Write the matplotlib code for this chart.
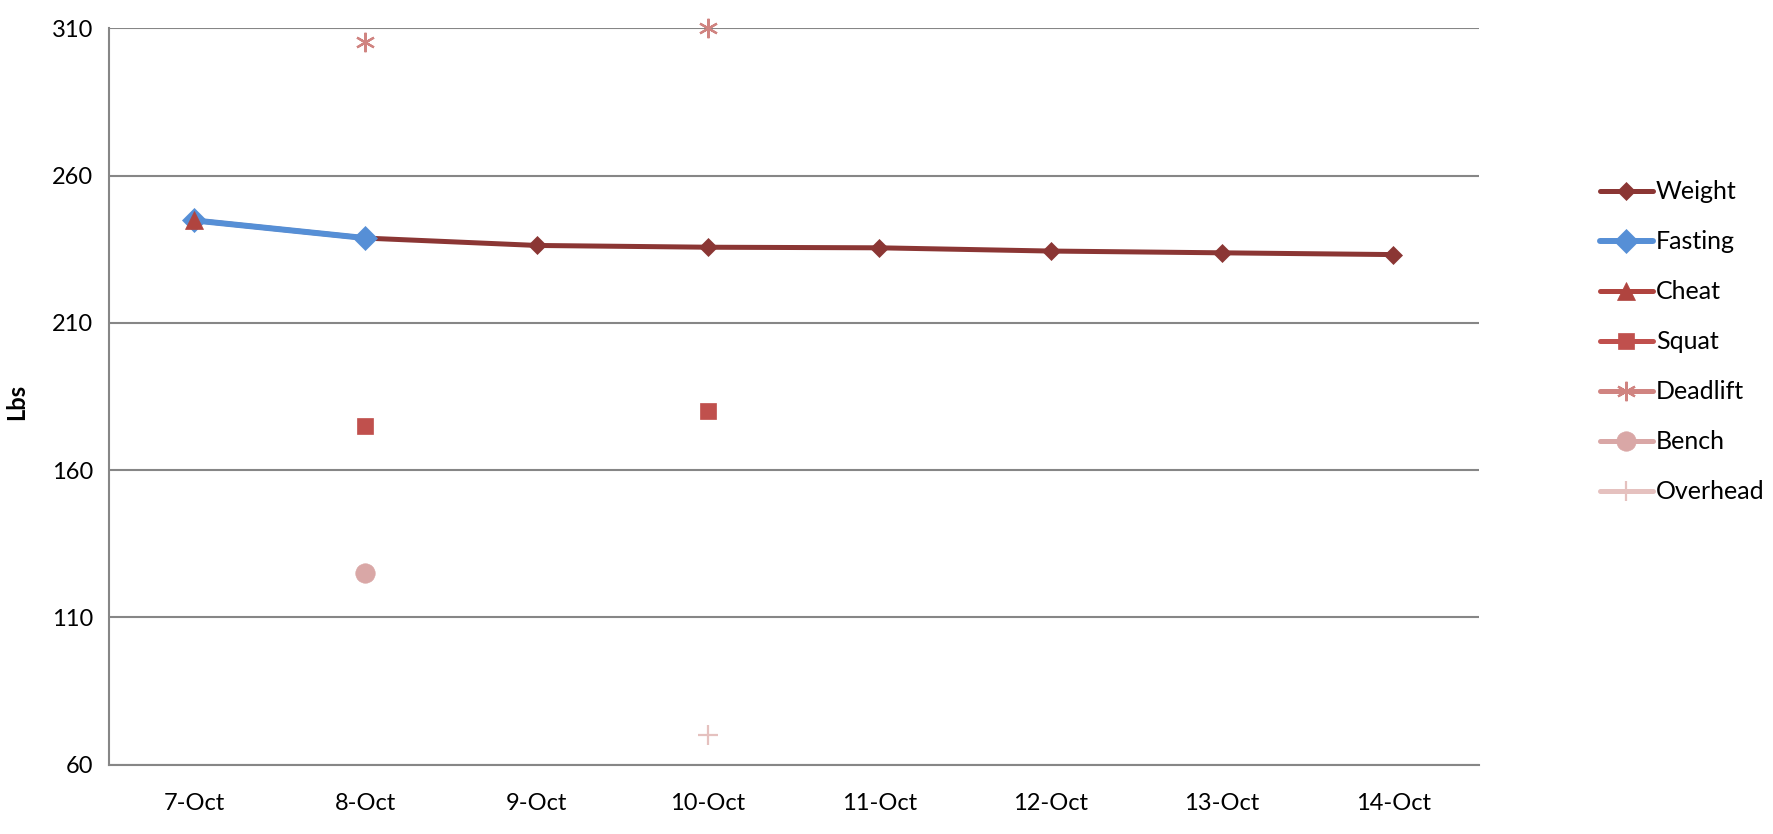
import numpy as np
import matplotlib
matplotlib.use("Agg")
import matplotlib.pyplot as plt

plt.rcParams["font.family"] = ["Lato", "DejaVu Sans"]

nan = np.nan
dates = ["7-Oct", "8-Oct", "9-Oct", "10-Oct", "11-Oct", "12-Oct", "13-Oct", "14-Oct"]
weight = [244.8, 238.8, 236.3, 235.7, 235.5, 234.4, 233.8, 233.2]
fasting = [244.8, 238.8, nan, nan, nan, nan, nan, nan]
cheat = [244.8, nan, nan, nan, nan, nan, nan, nan]
squat = [nan, 175, nan, 180, nan, nan, nan, nan]
deadlift = [nan, 305.5, nan, 310, nan, nan, nan, nan]
bench = [nan, 125, nan, nan, nan, nan, nan, nan]
overhead = [nan, nan, nan, 70, nan, nan, nan, nan]

fig = plt.figure(figsize=(17.74, 8.34), dpi=100)
ax = fig.add_axes([0.0612, 0.083, 0.7724, 0.883])
x = np.arange(len(dates))

# (label, data, colour, marker, markersize, linewidth)
series = [
    ("Weight", weight, "#8B3634", "D", 9.5, 3.6),
    ("Fasting", fasting, "#568FD6", "D", 12.5, 4.3),
    ("Cheat", cheat, "#B0443F", "^", 13, 3.6),
    ("Squat", squat, "#C0504D", "s", 11, 3.6),
    ("Deadlift", deadlift, "#D08481", (6, 2, 0), 14, 3.6),
    ("Bench", bench, "#D9A7A6", "o", 14, 3.6),
    ("Overhead", overhead, "#E5C1BF", "+", 14, 3.6),
]
for label, vals, col, mk, ms, lw in series:
    mew = 1.6 if mk in ("+", (6, 2, 0)) else 0.5
    ax.plot(x, vals, color=col, marker=mk, markersize=ms, linewidth=lw,
            markeredgecolor=col, markerfacecolor=col, markeredgewidth=mew,
            label=label, clip_on=False, solid_capstyle="round")

ax.set_xlim(-0.5, 7.5)
ax.set_ylim(60, 310)
ax.set_yticks([60, 110, 160, 210, 260, 310])
ax.set_xticks(x)
ax.set_xticklabels(dates)
ax.tick_params(axis="both", length=0, labelsize=17)
ax.tick_params(axis="x", pad=20)
ax.tick_params(axis="y", pad=11)
ax.grid(axis="y", color="#868686", linewidth=1.5)
ax.set_axisbelow(True)
for s in ("top", "right"):
    ax.spines[s].set_visible(False)
for s in ("left", "bottom"):
    ax.spines[s].set_color("#868686")
    ax.spines[s].set_linewidth(1.5)

ax.set_ylabel("Lbs", fontsize=17, fontweight="bold")
ax.yaxis.set_label_coords(-0.059, 0.493)

fig.legend(loc="center left", bbox_to_anchor=(0.889, 0.59), frameon=False,
           fontsize=18, handlelength=2.15, handletextpad=0.1, labelspacing=1.08)

fig.savefig("out.png", dpi=100)
